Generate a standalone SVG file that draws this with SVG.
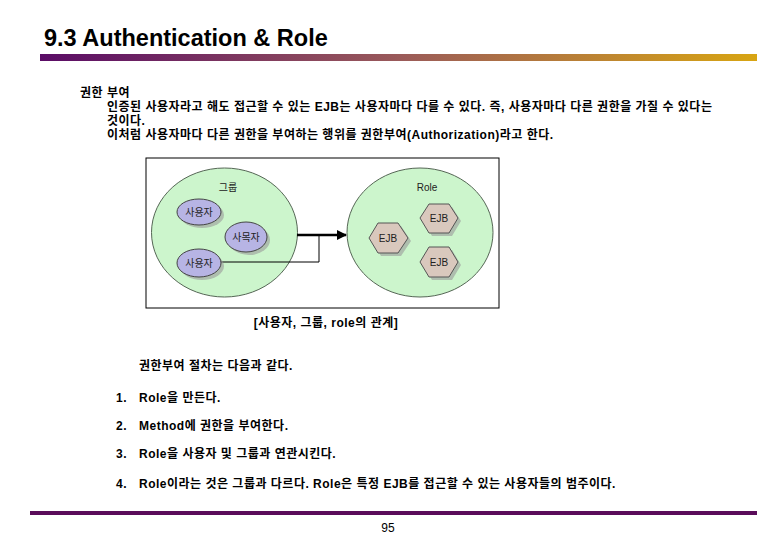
<svg xmlns="http://www.w3.org/2000/svg" width="780" height="540" viewBox="0 0 780 540">
<defs>
<linearGradient id="bar" x1="0" y1="0" x2="1" y2="0">
<stop offset="0" stop-color="#5a0c66"/>
<stop offset="0.5" stop-color="#9a5a5a"/>
<stop offset="1" stop-color="#d8a512"/>
</linearGradient>
<marker id="ah" viewBox="0 0 10 10" refX="9" refY="5" markerWidth="4" markerHeight="4" orient="auto" markerUnits="strokeWidth">
<path d="M0,0 L10,5 L0,10 z" fill="#000"/>
</marker>
<style>
.t{font-family:"Liberation Sans","Noto Sans CJK KR",sans-serif;font-weight:bold;font-size:12px;letter-spacing:0.5px;fill:#000}
.s{font-family:"Liberation Sans","Noto Sans CJK KR",sans-serif;font-size:10px;fill:#222}
.big{fill:#ccf5cc;stroke:#556655;stroke-width:1}
.ell{fill:#b7b4e4;stroke:#444;stroke-width:1}
.hex{fill:#d9c8bd;stroke:#555;stroke-width:1}
.sh{fill:#9a9a9a;opacity:0.6}
</style>
</defs>
<rect width="780" height="540" fill="#fff"/>
<text x="44" y="46" font-family="Liberation Sans, Arial, sans-serif" font-size="23.5" font-weight="bold" fill="#000">9.3 Authentication &amp; Role</text>
<rect x="40" y="54" width="717" height="7" fill="url(#bar)"/>

<g id="body">
<text class="t" x="80" y="97">권한 부여</text>
<text class="t" x="107" y="111">인증된 사용자라고 해도 접근할 수 있는 EJB는 사용자마다 다를 수 있다. 즉, 사용자마다 다른 권한을 가질 수 있다는</text>
<text class="t" x="107" y="125">것이다.</text>
<text class="t" x="107" y="139">이처럼 사용자마다 다른 권한을 부여하는 행위를 권한부여(Authorization)라고 한다.</text>
</g>

<rect id="frame" x="146" y="158" width="353" height="150" fill="#fff" stroke="#000" stroke-width="1"/>

<g id="group">
<ellipse class="big" cx="224.5" cy="232.5" rx="73" ry="64.5"/>
<text class="s" x="228" y="191" text-anchor="middle">그룹</text>
</g>
<g id="role">
<ellipse class="big" cx="420" cy="232.5" rx="73" ry="64.5"/>
<text class="s" x="427" y="191" text-anchor="middle">Role</text>
</g>

<g id="connectors">
<line x1="297" y1="235" x2="346" y2="235" stroke="#000" stroke-width="2.5" marker-end="url(#ah)"/>
<polyline points="221,262 319,262 319,235" fill="none" stroke="#000" stroke-width="1"/>
</g>

<g id="user1">
<ellipse class="sh" cx="202" cy="215" rx="22" ry="13"/>
<ellipse class="ell" cx="199" cy="212" rx="22" ry="13"/>
<text class="s" x="199" y="216" text-anchor="middle">사용자</text>
</g>
<g id="user2">
<ellipse class="sh" cx="249" cy="240" rx="21" ry="15"/>
<ellipse class="ell" cx="246" cy="237" rx="21" ry="15"/>
<text class="s" x="246" y="241" text-anchor="middle">사목자</text>
</g>
<g id="user3">
<ellipse class="sh" cx="202" cy="266" rx="22" ry="14"/>
<ellipse class="ell" cx="199" cy="263" rx="22" ry="14"/>
<text class="s" x="199" y="267" text-anchor="middle">사용자</text>
</g>

<g id="ejb1">
<polygon class="sh" points="372,241 381,226 401,226 411,241 401,256 381,256"/>
<polygon class="hex" points="369,238 378,223 398,223 408,238 398,253 378,253"/>
<text class="s" x="388" y="242" text-anchor="middle">EJB</text>
</g>
<g id="ejb2">
<polygon class="sh" points="423,221 432,207 452,207 461,221 452,236 432,236"/>
<polygon class="hex" points="420,218 429,204 449,204 458,218 449,233 429,233"/>
<text class="s" x="439" y="222" text-anchor="middle">EJB</text>
</g>
<g id="ejb3">
<polygon class="sh" points="423,265 432,250 452,250 461,265 452,280 432,280"/>
<polygon class="hex" points="420,262 429,247 449,247 458,262 449,277 429,277"/>
<text class="s" x="439" y="266" text-anchor="middle">EJB</text>
</g>

<g id="list">
<text class="t" x="326" y="327" text-anchor="middle">[사용자, 그룹, role의 관계]</text>
<text class="t" x="139" y="370">권한부여 절차는 다음과 같다.</text>
<text class="t" x="116" y="402">1.</text>
<text class="t" x="139" y="402">Role을 만든다.</text>
<text class="t" x="116" y="430">2.</text>
<text class="t" x="139" y="430">Method에 권한을 부여한다.</text>
<text class="t" x="116" y="458">3.</text>
<text class="t" x="139" y="458">Role을 사용자 및 그룹과 연관시킨다.</text>
<text class="t" x="116" y="488">4.</text>
<text class="t" x="139" y="488">Role이라는 것은 그룹과 다르다. Role은 특정 EJB를 접근할 수 있는 사용자들의 범주이다.</text>
</g>

<rect x="30" y="511" width="727" height="4" fill="#5a0c5a"/>
<text x="388" y="532" text-anchor="middle" font-family="Liberation Sans, Arial, sans-serif" font-size="12" fill="#000">95</text>
</svg>
